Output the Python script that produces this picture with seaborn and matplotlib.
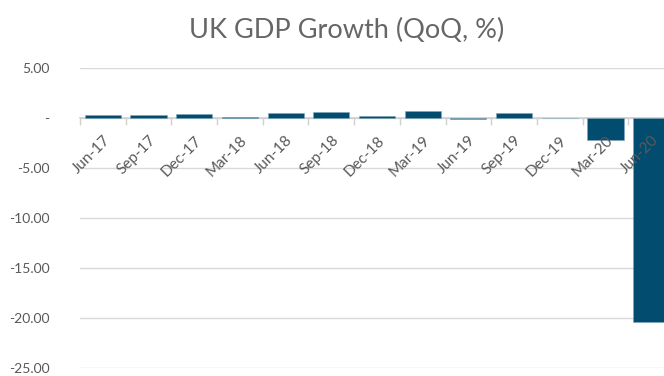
import matplotlib
matplotlib.use("Agg")
import matplotlib.pyplot as plt
import seaborn as sns
import pandas as pd
import numpy as np
from matplotlib.ticker import FixedLocator, FuncFormatter

quarters = ["Jun-17", "Sep-17", "Dec-17", "Mar-18", "Jun-18", "Sep-18", "Dec-18",
            "Mar-19", "Jun-19", "Sep-19", "Dec-19", "Mar-20", "Jun-20"]
growth = [0.3, 0.3, 0.4, 0.1, 0.5, 0.6, 0.2, 0.7, -0.1, 0.5, 0.0, -2.2, -20.4]
yticks = [5, 0, -5, -10, -15, -20, -25]

sns.set_theme(style="white")
plt.rcParams["font.family"] = ["Lato", "DejaVu Sans"]

df = pd.DataFrame({"quarter": quarters, "growth": growth})

fig = plt.figure(figsize=(6.64, 3.76), dpi=100)
ax = fig.add_axes([80 / 664, 8 / 376, 594 / 664, 300 / 376])
sns.barplot(data=df, x="quarter", y="growth", color="#024C70", saturation=1,
            width=0.79, ax=ax, edgecolor="#7FA6BA", linewidth=0.4, zorder=3)

ax.set_ylim(-25, 5)
ax.set_xlim(-0.5, len(quarters) - 0.5)
ax.set_yticks(yticks)
ax.yaxis.set_major_formatter(FuncFormatter(lambda v, p: "-" if v == 0 else f"{v:.2f}"))
ax.yaxis.grid(True, color="#D9D9D9", linewidth=1, zorder=0)
ax.set_axisbelow(True)
for s in ["top", "right", "left"]:
    ax.spines[s].set_visible(False)
ax.spines["bottom"].set_position(("data", 0))
ax.spines["bottom"].set_color("#D0D0D0")
ax.spines["bottom"].set_linewidth(1.2)
ax.spines["bottom"].set_zorder(2)

ax.xaxis.set_minor_locator(FixedLocator(np.arange(len(quarters) + 1) - 0.5))
ax.tick_params(axis="x", which="minor", length=5, width=1, color="#D0D0D0", direction="out", bottom=True)
ax.tick_params(axis="x", which="major", length=0, pad=11, labelsize=11, labelcolor="#595959")
ax.tick_params(axis="y", length=0, pad=22, labelsize=10, labelcolor="#595959")
for lab in ax.get_xticklabels():
    lab.set_rotation(45)
    lab.set_ha("right")
    lab.set_rotation_mode("anchor")
ax.xaxis.set_zorder(4)
ax.set_xlabel("")
ax.set_ylabel("")

fig.text(0.522, 0.92, "UK GDP Growth (QoQ, %)", ha="center", va="center",
         fontsize=19.5, color="#666666", fontweight="normal")

fig.savefig("out.png", dpi=100)
